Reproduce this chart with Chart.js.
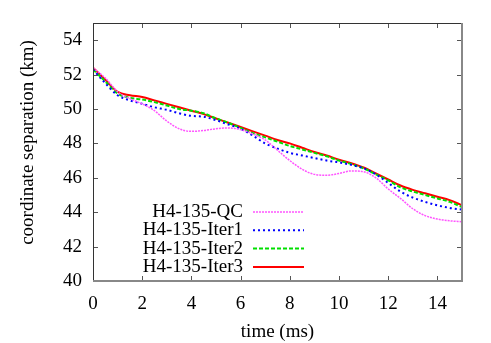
<!DOCTYPE html>
<html>
<head>
<meta charset="utf-8">
<script src="https://cdn.jsdelivr.net/npm/chart.js@4"></script>
<style>
  body { margin: 0; background: #fff; }
  #wrap { width: 491px; height: 343px; }
</style>
</head>
<body>
<div id="wrap"><canvas id="sepChart" width="491" height="343"></canvas></div>
<script>
// time (ms)
const times = [0, 0.5, 1, 1.5, 2, 2.5, 3, 3.5, 4, 4.5, 5, 5.5, 6, 6.5, 7, 7.5, 8, 8.5, 9, 9.5, 10, 10.5, 11, 11.5, 12, 12.5, 13, 13.5, 14, 14.5, 15];

// coordinate separation (km)
const sepQC    = [52.4, 51.8, 51.0, 50.6, 50.3, 49.9, 49.3, 48.85, 48.7, 48.75, 48.85, 48.9, 48.8, 48.55, 48.2, 47.6, 47.0, 46.5, 46.2, 46.15, 46.25, 46.4, 46.35, 46.0, 45.35, 44.8, 44.2, 43.8, 43.6, 43.5, 43.45];
const sepIter1 = [52.3, 51.5, 50.8, 50.5, 50.3, 50.1, 49.95, 49.75, 49.6, 49.55, 49.35, 49.1, 48.85, 48.45, 48.0, 47.7, 47.45, 47.3, 47.15, 47.0, 46.9, 46.75, 46.55, 46.2, 45.7, 45.2, 44.85, 44.6, 44.4, 44.25, 44.15];
const sepIter2 = [52.3, 51.6, 50.9, 50.65, 50.55, 50.4, 50.2, 50.0, 49.9, 49.75, 49.45, 49.2, 48.9, 48.6, 48.35, 48.1, 47.85, 47.65, 47.45, 47.25, 47.0, 46.8, 46.55, 46.2, 45.85, 45.45, 45.2, 45.0, 44.8, 44.6, 44.3];
const sepIter3 = [52.4, 51.7, 51.0, 50.8, 50.7, 50.5, 50.3, 50.1, 49.9, 49.7, 49.45, 49.2, 48.95, 48.7, 48.45, 48.2, 48.0, 47.75, 47.5, 47.3, 47.05, 46.85, 46.6, 46.25, 45.9, 45.55, 45.3, 45.1, 44.9, 44.7, 44.4];

const labels = ['H4-135-QC', 'H4-135-Iter1', 'H4-135-Iter2', 'H4-135-Iter3'];
const xTicks = [0, 2, 4, 6, 8, 10, 12, 14];
const yTicks = [40, 42, 44, 46, 48, 50, 52, 54];

const FONT = "'Liberation Serif', 'DejaVu Serif', serif";

function toPoints(arr) {
    return times.map((t, i) => ({ x: t, y: arr[i] }));
}

// gnuplot style box with inward ticks on all four sides
const frameBox = {
    id: 'frameBox',
    afterDatasetsDraw(chart) {
        const { ctx, chartArea: { left, top, right, bottom }, scales: { x, y } } = chart;
        ctx.save();
        ctx.strokeStyle = '#555';
        ctx.lineWidth = 1;
        ctx.beginPath();
        x.ticks.forEach(t => {
            const px = Math.round(x.getPixelForValue(t.value)) + 0.5;
            ctx.moveTo(px, bottom); ctx.lineTo(px, bottom - 5);
            ctx.moveTo(px, top); ctx.lineTo(px, top + 5);
        });
        y.ticks.forEach(t => {
            const py = Math.round(y.getPixelForValue(t.value)) + 0.5;
            ctx.moveTo(left, py); ctx.lineTo(left + 5, py);
            ctx.moveTo(right, py); ctx.lineTo(right - 5, py);
        });
        ctx.stroke();

        ctx.strokeStyle = '#333';
        ctx.beginPath();
        ctx.moveTo(left + 0.5, bottom);
        ctx.lineTo(left + 0.5, top + 0.5);
        ctx.lineTo(right, top + 0.5);
        ctx.stroke();

        ctx.strokeStyle = '#888';
        ctx.lineWidth = 2;
        ctx.beginPath();
        ctx.moveTo(left, bottom);
        ctx.lineTo(right, bottom);
        ctx.lineTo(right, top);
        ctx.stroke();
        ctx.restore();
    }
};

// key inside the plot: right aligned text, line sample on the right
const keyBox = {
    id: 'keyBox',
    afterDraw(chart, args, opts) {
        const { ctx } = chart;
        ctx.save();
        ctx.font = opts.font;
        ctx.fillStyle = '#000';
        ctx.textAlign = 'right';
        ctx.textBaseline = 'middle';
        chart.data.datasets.forEach((ds, i) => {
            const yy = opts.y + i * opts.rowHeight;
            ctx.fillText(ds.label, opts.textRight, yy);
            ctx.strokeStyle = ds.borderColor;
            ctx.lineWidth = ds.borderWidth;
            ctx.setLineDash(ds.borderDash || []);
            ctx.beginPath();
            ctx.moveTo(opts.lineStart, yy);
            ctx.lineTo(opts.lineEnd, yy);
            ctx.stroke();
        });
        ctx.restore();
    }
};

const ctx = document.getElementById('sepChart').getContext('2d');

new Chart(ctx, {
    type: 'line',
    data: {
        datasets: [{
            label: labels[0],
            data: toPoints(sepQC),
            borderColor: '#ff55ff',
            borderWidth: 1.5,
            borderDash: [2, 1]
        },
        {
            label: labels[1],
            data: toPoints(sepIter1),
            borderColor: '#0000ff',
            borderWidth: 2,
            borderDash: [2, 3]
        },
        {
            label: labels[2],
            data: toPoints(sepIter2),
            borderColor: '#00e000',
            borderWidth: 2,
            borderDash: [4, 2]
        },
        {
            label: labels[3],
            data: toPoints(sepIter3),
            borderColor: '#ff0000',
            borderWidth: 2
        }]
    },
    options: {
        responsive: false,
        animation: false,
        cubicInterpolationMode: 'monotone',
        elements: {
            point: { radius: 0 }
        },
        layout: {
            padding: { left: 0, top: 23, right: 29, bottom: 0 }
        },
        scales: {
            x: {
                type: 'linear',
                min: 0,
                max: 15,
                afterBuildTicks(scale) { scale.ticks = xTicks.map(v => ({ value: v })); },
                afterFit(scale) { scale.height = 62; },
                grid: { display: false, drawTicks: false, tickLength: 0 },
                border: { display: false },
                ticks: {
                    color: '#000',
                    padding: 12,
                    maxRotation: 0,
                    font: { family: FONT, size: 19 }
                },
                title: {
                    display: true,
                    text: 'time (ms)',
                    color: '#000',
                    padding: { top: 0, bottom: 0 },
                    font: { family: FONT, size: 19 }
                }
            },
            y: {
                type: 'linear',
                min: 40,
                max: 55,
                afterBuildTicks(scale) { scale.ticks = yTicks.map(v => ({ value: v })); },
                afterFit(scale) { scale.width = 93; },
                grid: { display: false, drawTicks: false, tickLength: 0 },
                border: { display: false },
                ticks: {
                    color: '#000',
                    padding: 11,
                    font: { family: FONT, size: 19 }
                },
                title: {
                    display: true,
                    // leading spaces nudge the centred title a bit upward, as in gnuplot
                    text: '    coordinate separation (km)',
                    color: '#000',
                    padding: { top: 17, bottom: 0 },
                    font: { family: FONT, size: 19 }
                }
            }
        },
        plugins: {
            legend: { display: false },
            tooltip: { enabled: false },
            keyBox: {
                font: '19px ' + FONT,
                textRight: 243,
                lineStart: 253,
                lineEnd: 304,
                y: 212,
                rowHeight: 18.3
            }
        }
    },
    plugins: [frameBox, keyBox]
});
</script>
</body>
</html>
